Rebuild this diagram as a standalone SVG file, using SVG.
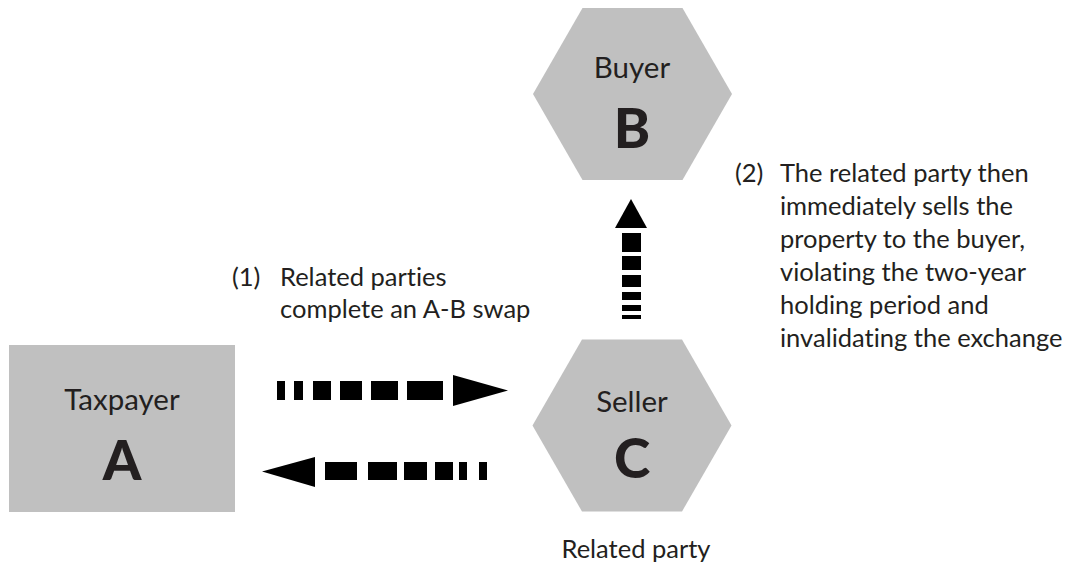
<svg xmlns="http://www.w3.org/2000/svg" width="1078" height="571" viewBox="0 0 1078 571">
<style>
text{font-variant-ligatures:none;font-feature-settings:"liga" 0,"dlig" 0}
.shape{fill:#c0c0c0}
.lbl{font-family:Lato,"Liberation Sans",sans-serif;font-size:29.5px;fill:#231f20;text-anchor:middle}
.big{font-family:Lato,"Liberation Sans",sans-serif;font-size:55px;font-weight:900;fill:#231f20;text-anchor:middle}
.note{font-family:Lato,"Liberation Sans",sans-serif;font-size:25.5px;fill:#231f20}
.arr{fill:#000}
</style>
<rect width="1078" height="571" fill="#fff"/>
<g id="nodeA">
<rect class="shape" x="9" y="345" width="226" height="167"/>
<text class="lbl" x="122" y="410">Taxpayer</text>
<text class="big" x="122" y="480">A</text>
</g>
<g id="nodeB">
<polygon class="shape" points="533,94 582.5,8 682.5,8 732,94 682.5,180 582.5,180"/>
<text class="lbl" x="632" y="78">Buyer</text>
<text class="big" x="632" y="148">B</text>
</g>
<g id="nodeC">
<polygon class="shape" points="532.5,425.5 582,339.5 682,339.5 731.5,425.5 682,511.5 582,511.5"/>
<text class="lbl" x="632" y="412">Seller</text>
<text class="big" x="632" y="478">C</text>
</g>
<g id="connectors">
<g id="arrowAC">
<rect class="arr" x="277" y="381" width="8" height="19"/>
<rect class="arr" x="294" y="381" width="9" height="19"/>
<rect class="arr" x="313" y="381" width="18" height="19"/>
<rect class="arr" x="340" y="381" width="22" height="19"/>
<rect class="arr" x="371" y="381" width="27" height="19"/>
<rect class="arr" x="407" y="381" width="36" height="19"/>
<polygon class="arr" points="453,375 508,390.5 453,406"/>
</g>
<g id="arrowCA">
<polygon class="arr" points="262,471.5 315,457 315,487"/>
<rect class="arr" x="325" y="462" width="32" height="18"/>
<rect class="arr" x="368" y="462" width="29" height="18"/>
<rect class="arr" x="404" y="462" width="23" height="18"/>
<rect class="arr" x="435" y="462" width="18" height="18"/>
<rect class="arr" x="459" y="462" width="8" height="18"/>
<rect class="arr" x="479" y="462" width="8" height="18"/>
</g>
<g id="arrowCB">
<polygon class="arr" points="631,199 615,228 647,228"/>
<rect class="arr" x="622" y="233" width="19" height="19"/>
<rect class="arr" x="622" y="256" width="19" height="14"/>
<rect class="arr" x="622" y="275" width="19" height="12"/>
<rect class="arr" x="622" y="292" width="19" height="8"/>
<rect class="arr" x="622" y="305" width="19" height="6"/>
<rect class="arr" x="622" y="315" width="19" height="4"/>
</g>
</g>
<g id="note1">
<text class="note" x="232" y="286">(1)</text>
<text class="note" x="280" y="286">Related parties</text>
<text class="note" x="280" y="318">complete an A-B swap</text>
</g>
<g id="note2">
<text class="note" x="735" y="182">(2)</text>
<text class="note" x="780" y="182">The related party then</text>
<text class="note" x="780" y="215">immediately sells the</text>
<text class="note" x="780" y="248">property to the buyer,</text>
<text class="note" x="780" y="281">violating the two-year</text>
<text class="note" x="780" y="314">holding period and</text>
<text class="note" x="780" y="347">invalidating the exchange</text>
</g>
<g id="caption">
<text class="note" x="636" y="558" text-anchor="middle" font-size="26.5">Related party</text>
</g>
</svg>
